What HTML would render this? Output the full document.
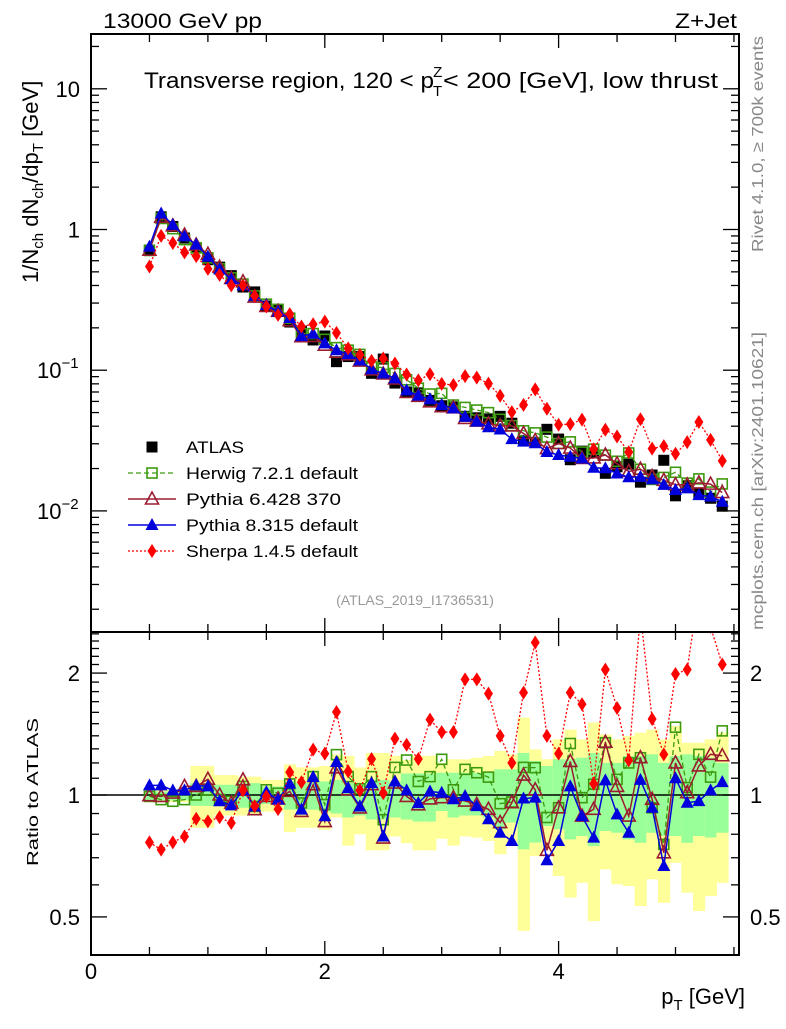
<!DOCTYPE html>
<html><head><meta charset="utf-8"><style>
body{margin:0;background:#fff}
svg text{font-family:"Liberation Sans",sans-serif}
</style></head><body>
<svg id="chart" width="786" height="1024" viewBox="0 0 786 1024" xmlns="http://www.w3.org/2000/svg">
<defs>
<clipPath id="clipMain"><rect x="91" y="34" width="648" height="598"/></clipPath>
<clipPath id="clipRatio"><rect x="91" y="632" width="648" height="323"/></clipPath>
</defs>
<g id="bands" clip-path="url(#clipRatio)"></g>
<g id="ratioMarks" clip-path="url(#clipRatio)"></g>
<g id="mainMarks" clip-path="url(#clipMain)"></g>
<g id="axes"></g>
<text x="103" y="28" font-size="21" textLength="159" lengthAdjust="spacingAndGlyphs">13000 GeV pp</text>
<text x="675" y="28" font-size="21" textLength="62" lengthAdjust="spacingAndGlyphs">Z+Jet</text>
<text x="144" y="88" font-size="22"><tspan textLength="290" lengthAdjust="spacingAndGlyphs">Transverse region, 120 &lt; p</tspan><tspan font-size="15" dx="-1" dy="8">T</tspan><tspan font-size="15" dx="-9" dy="-19">Z</tspan><tspan x="443" dy="11" textLength="275" lengthAdjust="spacingAndGlyphs">&lt; 200 [GeV], low thrust</tspan></text>
<text transform="translate(38,283) rotate(-90)" font-size="22">1/N<tspan font-size="15" dy="5">ch</tspan><tspan dy="-5"> dN</tspan><tspan font-size="15" dy="5">ch</tspan><tspan dy="-5">/dp</tspan><tspan font-size="15" dy="5">T</tspan><tspan dy="-5"> [GeV]</tspan></text>
<text transform="translate(38,866) rotate(-90)" font-size="16" textLength="148" lengthAdjust="spacingAndGlyphs">Ratio to ATLAS</text>
<text transform="translate(763,252) rotate(-90)" font-size="16" fill="#888" textLength="216" lengthAdjust="spacingAndGlyphs">Rivet 4.1.0, ≥ 700k events</text>
<text transform="translate(763,630) rotate(-90)" font-size="16" fill="#888" textLength="298" lengthAdjust="spacingAndGlyphs">mcplots.cern.ch [arXiv:2401.10621]</text>
<text x="415" y="605" font-size="14" fill="#999" text-anchor="middle">(ATLAS_2019_I1736531)</text>
<text x="745" y="1004" font-size="22" text-anchor="end">p<tspan font-size="15" dy="6">T</tspan><tspan dy="-6"> [GeV]</tspan></text>
<g id="legend"></g>
</svg>
<script>
const xVals=[0.5,0.6,0.7,0.8,0.9,1.0,1.1,1.2,1.3,1.4,1.5,1.6,1.7,1.8,1.9,2.0,2.1,2.2,2.3,2.4,2.5,2.6,2.7,2.8,2.9,3.0,3.1,3.2,3.3,3.4,3.5,3.6,3.7,3.8,3.9,4.0,4.1,4.2,4.3,4.4,4.5,4.6,4.7,4.8,4.9,5.0,5.1,5.2,5.3,5.4];
const atlas=[0.715,1.23,1.05,0.87,0.74,0.61,0.54,0.47,0.39,0.36,0.286,0.268,0.22,0.19,0.164,0.175,0.115,0.125,0.125,0.095,0.12,0.081,0.070,0.069,0.061,0.0559,0.0549,0.047,0.0459,0.0451,0.047,0.042,0.0317,0.0307,0.038,0.0324,0.0231,0.0266,0.0258,0.0185,0.0206,0.0215,0.016,0.018,0.0229,0.0128,0.0151,0.0134,0.0123,0.0108];
const herwigRatio=[0.992,0.974,0.965,0.974,1.0,1.03,0.974,0.965,1.05,0.937,1.03,1.01,1.065,0.956,1.11,0.947,1.258,1.11,1.036,1.11,0.869,1.17,1.22,1.08,1.11,1.225,1.03,1.157,1.135,1.107,0.952,0.961,1.17,1.168,0.88,0.93,1.34,0.985,1.063,1.346,1.093,1.2,1.236,0.93,0.755,1.47,1.043,1.26,1.107,1.44];
const py6Ratio=[0.996,0.992,1.011,1.05,1.05,1.094,1.0,0.955,1.09,0.92,0.992,0.978,1.021,0.911,1.06,0.86,1.166,1.03,0.929,1.06,0.783,1.07,0.992,0.946,0.978,0.985,0.985,0.966,0.948,0.922,0.855,0.957,1.12,1.03,0.73,0.93,1.21,0.887,0.922,1.35,1.05,0.887,1.236,0.976,0.72,1.2,1.013,1.18,1.26,1.25];
const py8Ratio=[1.056,1.056,1.027,1.027,1.056,1.05,0.965,0.943,1.027,0.937,1.017,0.974,1.067,0.92,1.108,0.886,1.206,1.04,0.937,1.07,0.79,1.08,1.027,0.955,1.02,1.013,0.976,0.994,0.939,0.871,0.807,0.77,0.98,0.985,0.69,0.77,1.05,0.887,0.785,1.087,0.896,0.807,1.09,0.93,0.668,1.10,0.957,0.966,1.027,1.076];
const sherpaRatio=[0.764,0.733,0.764,0.79,0.874,0.861,0.881,0.853,1.027,0.938,0.992,0.923,1.138,1.075,1.294,1.265,1.603,1.144,1.027,1.227,1.011,1.378,1.331,1.227,1.535,1.43,1.43,1.93,1.93,1.78,1.40,1.20,1.79,2.38,1.40,1.265,1.79,1.675,1.066,2.04,1.64,1.218,2.8,1.54,1.26,1.99,2.04,3.2,2.6,2.10];
const yellowUp=[1.03,1.03,1.03,1.03,1.18,1.18,1.12,1.12,1.11,1.11,1.09,1.09,1.19,1.17,1.17,1.18,1.26,1.25,1.17,1.27,1.27,1.25,1.22,1.25,1.25,1.20,1.225,1.225,1.236,1.248,1.285,1.26,1.553,1.296,1.225,1.372,1.45,1.372,1.51,1.41,1.372,1.398,1.425,1.45,1.372,1.48,1.346,1.346,1.372,1.425];
const yellowDn=[0.96,0.96,0.96,0.96,0.83,0.83,0.89,0.89,0.89,0.89,0.91,0.91,0.81,0.83,0.83,0.82,0.88,0.75,0.80,0.73,0.73,0.79,0.76,0.73,0.73,0.78,0.75,0.79,0.785,0.77,0.714,0.763,0.462,0.707,0.734,0.631,0.558,0.607,0.488,0.655,0.602,0.596,0.532,0.619,0.542,0.68,0.574,0.517,0.563,0.607];
const greenUp=[1.02,1.02,1.02,1.02,1.07,1.07,1.06,1.06,1.07,1.07,1.05,1.05,1.08,1.07,1.07,1.08,1.09,1.07,1.07,1.09,1.09,1.08,1.13,1.13,1.13,1.135,1.135,1.135,1.135,1.135,1.157,1.157,1.27,1.213,1.179,1.225,1.225,1.236,1.27,1.20,1.20,1.248,1.248,1.26,1.20,1.248,1.26,1.248,1.236,1.20];
const greenDn=[0.97,0.97,0.97,0.97,0.94,0.94,0.94,0.94,0.93,0.93,0.95,0.95,0.92,0.92,0.92,0.91,0.90,0.88,0.89,0.87,0.87,0.88,0.87,0.86,0.86,0.913,0.88,0.89,0.89,0.88,0.823,0.855,0.734,0.763,0.838,0.823,0.777,0.792,0.748,0.815,0.807,0.777,0.762,0.807,0.792,0.792,0.762,0.792,0.785,0.807];
const xTickLabels=["0","2","4"];
const mainTickLabels=["10","1","10","10"];
const ratioTickLabels=["2","1","0.5"];

const NS="http://www.w3.org/2000/svg";
const X0=91,X1=739,MT=34,MB=632,RB=955;
const sx=v=>X0+116.9*v;
const sy=v=>229.5-140.7*Math.log10(v);
const sr=v=>795-405*Math.log10(v);
function mk(tag,attrs,parent){const e=document.createElementNS(NS,tag);for(const k in attrs)e.setAttribute(k,attrs[k]);parent.appendChild(e);return e;}
const bands=document.getElementById('bands'),rm=document.getElementById('ratioMarks'),mm=document.getElementById('mainMarks'),ax=document.getElementById('axes'),lg=document.getElementById('legend');

const hw=116.9*0.05;
xVals.forEach((x,i)=>{
  const y1=mk('rect',{x:sx(x)-hw,y:sr(yellowUp[i]),width:2*hw+0.5,height:sr(yellowDn[i])-sr(yellowUp[i]),fill:'#ffff99'},bands);
  
  
  const g1=mk('rect',{x:sx(x)-hw,y:sr(greenUp[i]),width:2*hw+0.5,height:sr(greenDn[i])-sr(greenUp[i]),fill:'#99ff99'},bands);
  
  
});
const one=mk('line',{x1:X0,x2:X1,y1:sr(1),y2:sr(1),stroke:'#000','stroke-width':1.5},bands);



function marker(type,cx,cy,color,parent){
  let e;
  if(type==='sqfill')e=mk('rect',{x:cx-5.5,y:cy-5.5,width:11,height:11,fill:color},parent);
  else if(type==='sqopen')e=mk('rect',{x:cx-5,y:cy-5,width:10,height:10,fill:'none',stroke:color,'stroke-width':1.6},parent);
  else if(type==='tri')e=mk('polygon',{points:`${cx},${cy-7} ${cx-6.5},${cy+5} ${cx+6.5},${cy+5}`,fill:color},parent);
  else if(type==='triopen')e=mk('polygon',{points:`${cx},${cy-7} ${cx-6.5},${cy+5} ${cx+6.5},${cy+5}`,fill:'none',stroke:color,'stroke-width':1.6},parent);
  else e=mk('polygon',{points:`${cx},${cy-7} ${cx-4.5},${cy} ${cx},${cy+7} ${cx+4.5},${cy}`,fill:color},parent);
  return e;
}
const series=[
 {name:'herwig',r:herwigRatio,color:'#3d9a0f',m:'sqopen',dash:'5,3',w:1.3},
 {name:'pythia6',r:py6Ratio,color:'#9b1b30',m:'triopen',dash:'',w:1.5},
 {name:'pythia8',r:py8Ratio,color:'#0000dd',m:'tri',dash:'',w:1.5},
 {name:'sherpa',r:sherpaRatio,color:'#ff0000',m:'dia',dash:'2,2',w:1.3}
];
atlas.forEach((v,i)=>{
  const e=marker('sqfill',sx(xVals[i]),sy(v),'#000',mm);
  
  
});
series.forEach(s=>{
  const mainPts=xVals.map((x,i)=>sx(x)+','+sy(atlas[i]*s.r[i])).join(' ');
  const pl=mk('polyline',{points:mainPts,fill:'none',stroke:s.color,'stroke-width':s.w,'stroke-dasharray':s.dash},mm);
  
  
  const rPts=xVals.map((x,i)=>sx(x)+','+sr(s.r[i])).join(' ');
  const rl=mk('polyline',{points:rPts,fill:'none',stroke:s.color,'stroke-width':s.w,'stroke-dasharray':s.dash},rm);
  
  
  xVals.forEach((x,i)=>{
    const a=marker(s.m,sx(x),sy(atlas[i]*s.r[i]),s.color,mm);
    
    
    const b=marker(s.m,sx(x),sr(s.r[i]),s.color,rm);
    
    
  });
});

[[MT,MB],[MB,RB]].forEach(([t,b],k)=>{
  const f=mk('rect',{x:X0,y:t,width:X1-X0,height:b-t,fill:'none',stroke:'#000','stroke-width':2},ax);
  
  
});
for(let v=0;v<=5.5;v+=0.5){
  const X=sx(v),L=(Math.abs(v%2)<1e-6)?14:8;
  [[MT,1],[MB,-1],[MB,1],[RB,-1]].forEach(([y,d])=>{
    const t=mk('line',{x1:X,x2:X,y1:y,y2:y+d*L,stroke:'#000','stroke-width':1.3},ax);
    
    
  });
}
xTickLabels.forEach(l=>{
  const t=mk('text',{x:sx(+l),y:979,'font-size':22,'text-anchor':'middle'},ax);
  t.textContent=l;
  
  
});
for(let e=-3;e<=1;e++){for(let m=1;m<10;m++){
  const v=m*Math.pow(10,e),Y=sy(v);if(Y<MT||Y>MB)continue;const L=m===1?16:8;
  [[X0,1],[X1,-1]].forEach(([x,d])=>{
    const t=mk('line',{x1:x,x2:x+d*L,y1:Y,y2:Y,stroke:'#000','stroke-width':1.3},ax);
    
    
  });
}}
const mainTickVals=[10,1,0.1,0.01],mainExp=["","","−1","−2"];
mainTickLabels.forEach((l,i)=>{
  const t=mk('text',{x:i<2?80:37,y:sy(mainTickVals[i])+8,'font-size':22,'text-anchor':i<2?'end':'start'},ax);
  t.textContent=l;
  if(mainExp[i]){const s=document.createElementNS(NS,'tspan');s.setAttribute('font-size','15');s.setAttribute('dy','-10');s.textContent=mainExp[i];t.appendChild(s);}
  
  
});
for(let v=0.4;v<=2.55;v+=0.1){
  const Y=sr(v);if(Y<MB+1||Y>RB-1)continue;
  const major=[0.5,1,2].some(m=>Math.abs(m-v)<1e-6);const L=major?16:8;
  [[X0,1],[X1,-1]].forEach(([x,d])=>{
    const t=mk('line',{x1:x,x2:x+d*L,y1:Y,y2:Y,stroke:'#000','stroke-width':1.3},ax);
    
    
  });
}
ratioTickLabels.forEach(l=>{
  const Y=sr(+l)+8;
  const a=mk('text',{x:80,y:Y,'font-size':22,'text-anchor':'end'},ax);a.textContent=l;
  
  
  const b=mk('text',{x:750,y:Y,'font-size':22},ax);b.textContent=l;
  
  
});
const legNames=['ATLAS','Herwig 7.2.1 default','Pythia 6.428 370','Pythia 8.315 default','Sherpa 1.4.5 default'];
const legLens=[58,172,155,172,172];
const legStyles=[{m:'sqfill',color:'#000',dash:null},...series];
legNames.forEach((n,i)=>{
  const Y=447+26*i,s=legStyles[i];
  const g=mk('g',{},lg);
  
  
  if(i>0)mk('line',{x1:128,x2:176,y1:Y,y2:Y,stroke:s.color,'stroke-width':s.w,'stroke-dasharray':s.dash},g);
  marker(s.m,152,Y,s.color,g);
  const t=mk('text',{x:186,y:Y+6,'font-size':17,textLength:legLens[i],lengthAdjust:'spacingAndGlyphs'},g);t.textContent=n;
});
</script>
</body></html>
